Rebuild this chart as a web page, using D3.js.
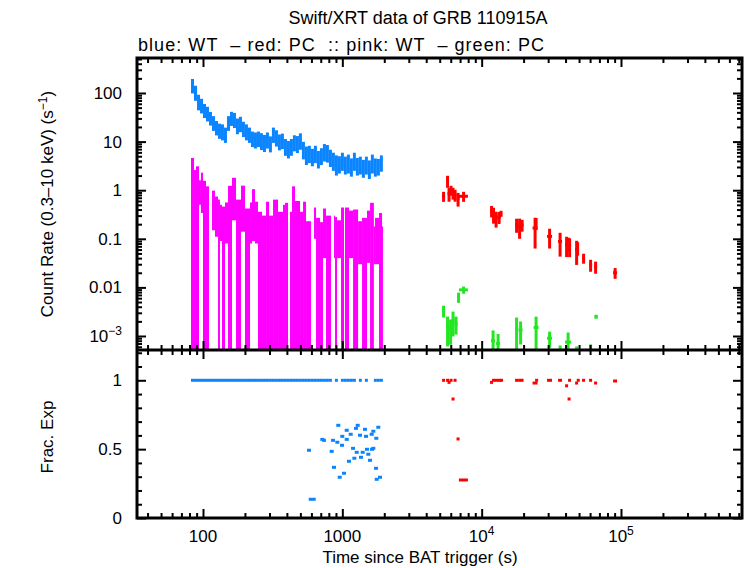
<!DOCTYPE html>
<html>
<head>
<meta charset="utf-8">
<script src="https://cdn.jsdelivr.net/npm/d3@7/dist/d3.min.js"></script>
<style>
body { margin: 0; background: #fff; }
text { font-family: "Liberation Sans", Arial, Helvetica, sans-serif; fill: #000; }
</style>
</head>
<body>
<div id="chart"></div>
<script>
//Data: WT light curve (blue), contiguous time bins
const wtEdges = [82.0, 86.2, 90.6, 95.2, 100.0, 105.1, 110.4, 116.0, 121.9, 128.1, 134.6, 141.4, 148.6, 156.2, 164.1, 172.4,
    181.2, 190.4, 200.0, 210.2, 220.9, 232.1, 243.9, 256.3, 269.3, 283.0, 297.3, 312.4, 328.3, 345.0, 362.5, 380.9,
    400.3, 420.6, 442.0, 464.4, 488.0, 512.8, 538.9, 566.3, 595.0, 625.3, 657.0, 690.4, 725.5, 762.4, 801.1, 841.8,
    884.6, 929.5, 976.8, 1026, 1078, 1133, 1191, 1251, 1315, 1381, 1452, 1525, 1603, 1684, 1770, 1860, 1954];
const wtRate = [146, 105, 68, 57, 45, 39, 31, 25, 20, 17.4, 16.6, 14.4, 25, 31, 29, 22,
    24, 19, 16.6, 14.4, 11.9, 11.3, 11.9, 10.8, 9.9, 11.3, 9.4, 14.4, 12.5, 10.3, 10.8, 8.2,
    7.4, 8.2, 9.9, 9.4, 10.8, 7.1, 5.6, 5.9, 5.1, 5.9, 4.6, 5.3, 6.4, 6.1, 4.9, 4.2,
    3.6, 3.6, 4.2, 3.5, 3.8, 3.2, 4.2, 3.3, 3.5, 3.0, 3.5, 2.9, 3.8, 3.2, 3.2, 3.8];
const wtErr = [48, 36, 24, 19, 14.5, 13, 9.6, 8.4, 6.6, 6, 6, 5, 8.4, 10, 10, 7.8,
    8.4, 6.6, 6, 5, 4.2, 4.1, 4.2, 4.1, 3.8, 4.1, 3.4, 5, 4.6, 3.7, 3.8, 3.1,
    2.9, 3.1, 3.6, 3.6, 4, 2.8, 2.3, 2.3, 2, 2.3, 1.8, 2, 2.5, 2.4, 1.9, 1.7,
    1.6, 1.4, 1.7, 1.4, 1.6, 1.3, 1.7, 1.3, 1.4, 1.2, 1.4, 1.2, 1.6, 1.3, 1.2, 1.4];
const wtFrac = [1, 1, 1, 1, 1, 1, 1, 1, 1, 1, 1, 1, 1, 1, 1, 1,
    1, 1, 1, 1, 1, 1, 1, 1, 1, 1, 1, 1, 1, 1, 1, 1,
    1, 1, 1, 1, 1, 1, 1, 1, 1, 1, 1, 1, 1, 1, 1, null,
    1, null, 1, 1, 1, 1, 1, null, 1, null, 1, null, null, 1, 1, 1];

//WT bins with fractional exposure below 1
const wtFracT = [936, 1076, 1290, 1254, 1455, 1813, 1670, 1626, 1000, 1149, 1340, 1480, 1754, 719, 739, 858, 921, 1076, 995, 577,
    839, 1194, 1269, 1401, 1504, 1634, 1670, 1537, 1362, 1220, 1117, 1581, 872, 1746, 1028, 958, 1865, 1766, 609];
const wtFracDt = [31, 36, 43, 41, 48, 60, 55, 54, 33, 38, 44, 49, 58, 24, 24, 28, 30, 36, 33, 19,
    28, 39, 42, 46, 50, 54, 55, 51, 45, 40, 37, 52, 29, 58, 34, 32, 62, 58, 35];
const wtFracV = [0.673, 0.637, 0.673, 0.651, 0.644, 0.659, 0.630, 0.608, 0.593, 0.608, 0.601, 0.593, 0.579, 0.571, 0.564, 0.564,
    0.550, 0.571, 0.528, 0.492, 0.484, 0.506, 0.477, 0.477, 0.499, 0.499, 0.506, 0.463, 0.441, 0.434, 0.412, 0.419,
    0.368, 0.361, 0.325, 0.296, 0.296, 0.281, 0.136];

//Pink: WT
const pinkT0 = [82.0, 86.2, 89.1, 93.6, 96.7, 100.0, 105.1, 116.0, 121.9, 128.2, 132.4, 136.9, 143.9, 151.2, 161.5, 172.6,
    187.4, 200.2, 217.5, 224.8, 236.2, 248.2, 265.2, 283.4, 297.8, 318.2, 345.5, 375.3, 387.9, 421.3, 435.5, 457.6,
    497.0, 522.4, 548.9, 626.4, 647.5, 691.7, 726.9, 763.8, 871.8, 886.4, 916.2, 978.8, 1045, 1117, 1194, 1297,
    1385, 1504, 1581, 1684, 1717, 1834, 1928];
const pinkT1 = [86.2, 89.1, 93.6, 96.7, 100.0, 105.1, 110.4, 121.9, 128.2, 132.4, 136.9, 143.9, 151.2, 161.5, 172.6, 187.4,
    200.2, 217.5, 224.8, 236.2, 248.2, 265.2, 283.4, 297.8, 318.2, 345.5, 375.3, 387.9, 407.6, 435.5, 457.6, 497.0,
    522.4, 548.9, 596.3, 647.5, 691.7, 726.9, 763.8, 829.7, 886.4, 916.2, 978.8, 1028, 1117, 1194, 1297, 1385,
    1504, 1581, 1684, 1717, 1834, 1928, 1960];
const pinkRate = [2.1, 1.2, 1.4, 1.05, 1.32, 0.7, 0.55, 0.565, 0.425, 0.29, 0.295, 0.21, 0.32, 0.55, 1.02, 0.29,
    0.69, 0.19, 0.32, 0.57, 0.33, 0.16, 0.13, 0.26, 0.13, 0.29, 0.16, 0.22, 0.25, 0.16, 0.54, 0.27,
    0.16, 0.26, 0.1, 0.27, 0.12, 0.1, 0.23, 0.13, 0.17, 0.12, 0.14, 0.2, 0.2, 0.21, 0.18, 0.13,
    0.12, 0.206, 0.25, 0.105, 0.15, 0.15, 0.08];
const pinkErr = [2.5, 1.4, 1.7, 0.55, 0.98, 0.86, 0.65, 0.415, 0.315, 0.35, 0.205, 0.25, 0.24, 0.68, 0.78, 0.35,
    0.55, 0.23, 0.24, 0.48, 0.25, 0.2, 0.17, 0.32, 0.17, 0.35, 0.2, 0.28, 0.3, 0.2, 0.66, 0.33,
    0.2, 0.32, 0.13, 0.17, 0.15, 0.12, 0.19, 0.17, 0.13, 0.16, 0.1, 0.24, 0.24, 0.17, 0.22, 0.1,
    0.15, 0.174, 0.3, 0.075, 0.12, 0.19, 0.1];

//Red: PC
const pcT = [5329, 5691, 5834, 6031, 6234, 6445, 6771, 7418, 11780, 12170, 12690, 13340, 13780, 17810, 18720, 19510,
    24180, 24590, 30730, 36550, 40700, 42060, 42770, 48030, 48830, 53890, 60510, 65740, 90730];
const pcDt = [132, 141, 145, 150, 155, 160, 168, 550, 292, 302, 315, 440, 228, 442, 464, 484,
    1000, 406, 1270, 1210, 1010, 700, 1060, 1190, 700, 1340, 1500, 1630, 3000];
const pcRate = [0.75, 1.55, 0.85, 1.0, 0.88, 0.8, 0.67, 0.75, 0.375, 0.32, 0.265, 0.28, 0.33, 0.196, 0.18, 0.193,
    0.167, 0.21, 0.112, 0.088, 0.076, 0.08, 0.072, 0.060, 0.065, 0.040, 0.029, 0.0265, 0.020];
const pcErr = [0.175, 0.43, 0.27, 0.23, 0.24, 0.22, 0.21, 0.175, 0.10, 0.115, 0.095, 0.078, 0.047, 0.063, 0.08, 0.053,
    0.104, 0.058, 0.049, 0.045, 0.034, 0.025, 0.03, 0.031, 0.02, 0.0093, 0.008, 0.0074, 0.005];
const pcFrac = [1, 1, 0.985, 1, 0.864, 1, 0.574, 0.276, 0.985, 1, 1, 1, 1, 1, 1, 1,
    0.98, 1, 1, 1, 0.96, 0.864, 1, 0.98, 1, 1, 1, 0.98, 0.995];

//Green: PC
const greenT = [5329, 5691, 5982, 6234, 6550, 6826, 7418, 12080, 13120, 17810, 19030, 24590, 30730, 36550, 41730, 48030, 60510, 66280];
const greenDt = [132, 141, 148, 155, 162, 170, 550, 400, 430, 442, 630, 1000, 1270, 1210, 2090, 1190, 1500, 1640];
const greenRate = [0.0033, 0.00156, 0.00142, 0.00208, 0.00179, 0.0063, 0.0089, 0.0008, 0.0007, 0.0014, 0.00133, 0.0015,
    0.0009, 0.0005, 0.00075, 0.00048, 0.0005, 0.0025];
const greenErr = [0.0009, 0.00095, 0.00076, 0.0011, 0.00072, 0.0015, 0.0015, 0.0005, 0.0004, 0.001, 0.00066, 0.001,
    0.00033, 0.00014, 0.00043, 0.00013, 0.00017, 0.00023];

//Ticks
const xMajor = [100, 1000, 1e4, 1e5];
const xMajorBase = ['100', '1000', '10', '10'];
const xMajorExp = ['', '', '4', '5'];
const rateMajor = [100, 10, 1, 0.1, 0.01, 0.001];
const rateMajorBase = ['100', '10', '1', '0.1', '0.01', '10'];
const rateMajorExp = ['', '', '', '', '', '\u22123'];
const fracMajor = [0, 0.5, 1];
const fracMajorLabels = ['0', '0.5', '1'];

//General config
const W = 746, H = 568;
const left = 137, right = 742;
const topY = 58, midY = 350, botY = 518;
const blue = '#0a85ff', pink = '#ff00ff', red = '#ff0000', green = '#22e622';

const x = d3.scaleLog().domain([33.6, 738700]).range([left, right]);
const y = d3.scaleLog().domain([5.15e-4, 525]).range([midY, topY]);
const yf = d3.scaleLinear().domain([0, 1.22]).range([botY, midY]);

const svg = d3.select('#chart').append('svg')
    .attr('width', W)
    .attr('height', H);

svg.append('clipPath').attr('id', 'clipTop')
    .append('rect').attr('x', left).attr('y', topY).attr('width', right - left).attr('height', midY - topY);
svg.append('clipPath').attr('id', 'clipBot')
    .append('rect').attr('x', left).attr('y', midY).attr('width', right - left).attr('height', botY - midY);

const topG = svg.append('g').attr('clip-path', 'url(#clipTop)');
const botG = svg.append('g').attr('clip-path', 'url(#clipBot)');

const yLow = v => v > y.domain()[0] ? y(v) : midY + 10;

//WT and pink bins drawn as filled boxes
const wtBins = wtRate.map((r, i) => ({t0: wtEdges[i], t1: wtEdges[i + 1], r: r, e: wtErr[i], f: wtFrac[i]}));
const pinkBins = pinkRate.map((r, i) => ({t0: pinkT0[i], t1: pinkT1[i], r: r, e: pinkErr[i]}));

topG.selectAll('.pink').data(pinkBins).enter().append('rect')
    .attr('class', 'pink')
    .attr('x', d => x(d.t0))
    .attr('width', d => x(d.t1) - x(d.t0))
    .attr('y', d => y(d.r + d.e))
    .attr('height', d => yLow(d.r - d.e) - y(d.r + d.e))
    .attr('fill', pink);

topG.selectAll('.wt').data(wtBins).enter().append('rect')
    .attr('class', 'wt')
    .attr('x', d => x(d.t0))
    .attr('width', d => x(d.t1) - x(d.t0))
    .attr('y', d => y(d.r + d.e))
    .attr('height', d => yLow(d.r - d.e) - y(d.r + d.e))
    .attr('fill', blue);

//PC points drawn as crosses
function crosses(g, data, color) {
    const pts = g.append('g').attr('stroke', color).attr('stroke-width', 3);
    pts.selectAll('.v').data(data).enter().append('line')
        .attr('x1', d => x(d.t)).attr('x2', d => x(d.t))
        .attr('y1', d => y(d.r + d.e)).attr('y2', d => yLow(d.r - d.e));
    pts.selectAll('.h').data(data).enter().append('line')
        .attr('x1', d => x(d.t - d.dt)).attr('x2', d => x(d.t + d.dt))
        .attr('y1', d => y(d.r)).attr('y2', d => y(d.r));
}
const pcPts = pcRate.map((r, i) => ({t: pcT[i], dt: pcDt[i], r: r, e: pcErr[i], f: pcFrac[i]}));
const greenPts = greenRate.map((r, i) => ({t: greenT[i], dt: greenDt[i], r: r, e: greenErr[i]}));
crosses(topG, greenPts, green);
crosses(topG, pcPts, red);

//Fractional exposure panel
botG.selectAll('.wtf').data(wtBins.filter(d => d.f !== null)).enter().append('rect')
    .attr('x', d => x(d.t0))
    .attr('width', d => x(d.t1) - x(d.t0))
    .attr('y', d => yf(d.f) - 1.5)
    .attr('height', 3)
    .attr('fill', blue);

const wtScatter = wtFracV.map((v, i) => ({t: wtFracT[i], dt: wtFracDt[i], f: v}));
botG.selectAll('.wts').data(wtScatter).enter().append('rect')
    .attr('x', d => x(d.t - d.dt))
    .attr('width', d => x(d.t + d.dt) - x(d.t - d.dt))
    .attr('y', d => yf(d.f) - 1.5)
    .attr('height', 3)
    .attr('fill', blue);

botG.selectAll('.pcf').data(pcPts).enter().append('rect')
    .attr('x', d => x(d.t - d.dt))
    .attr('width', d => Math.max(3, x(d.t + d.dt) - x(d.t - d.dt)))
    .attr('y', d => yf(d.f) - 1.5)
    .attr('height', 3)
    .attr('fill', red);

//Minor tick values
const xMinor = [];
[10, 100, 1000, 1e4, 1e5].forEach(dec => {
    for (let k = 2; k <= 9; k++) {
        const v = dec * k;
        if (v > x.domain()[0] && v < x.domain()[1]) xMinor.push(v);
    }
});
const rateMinor = [];
[1e-4, 1e-3, 1e-2, 0.1, 1, 10, 100].forEach(dec => {
    for (let k = 2; k <= 9; k++) {
        const v = dec * k;
        if (v > y.domain()[0] && v < y.domain()[1]) rateMinor.push(v);
    }
});
const fracMinor = [0.1, 0.2, 0.3, 0.4, 0.6, 0.7, 0.8, 0.9, 1.1, 1.2];

//Axes (ticks pointing inside)
function tickAxis(axisFn, scale, vals, size, transform) {
    const g = svg.append('g')
        .attr('transform', transform)
        .call(axisFn(scale).tickValues(vals).tickSize(size).tickFormat(''));
    g.select('.domain').remove();
    g.selectAll('line').attr('stroke', '#000').attr('stroke-width', 2);
}
const maj = -9, mnr = -5;
tickAxis(d3.axisLeft, y, rateMajor, maj, `translate(${left},0)`);
tickAxis(d3.axisLeft, y, rateMinor, mnr, `translate(${left},0)`);
tickAxis(d3.axisRight, y, rateMajor, maj, `translate(${right},0)`);
tickAxis(d3.axisRight, y, rateMinor, mnr, `translate(${right},0)`);
tickAxis(d3.axisLeft, yf, fracMajor, maj, `translate(${left},0)`);
tickAxis(d3.axisLeft, yf, fracMinor, mnr, `translate(${left},0)`);
tickAxis(d3.axisRight, yf, fracMajor, maj, `translate(${right},0)`);
tickAxis(d3.axisRight, yf, fracMinor, mnr, `translate(${right},0)`);
[[d3.axisTop, topY], [d3.axisBottom, midY], [d3.axisTop, midY], [d3.axisBottom, botY]].forEach(([fn, yy]) => {
    tickAxis(fn, x, xMajor, maj, `translate(0,${yy})`);
    tickAxis(fn, x, xMinor, mnr, `translate(0,${yy})`);
});

//Frames
svg.append('rect')
    .attr('x', left).attr('y', topY)
    .attr('width', right - left).attr('height', botY - topY)
    .attr('fill', 'none').attr('stroke', '#000').attr('stroke-width', 3);
svg.append('line')
    .attr('x1', left).attr('x2', right)
    .attr('y1', midY).attr('y2', midY)
    .attr('stroke', '#000').attr('stroke-width', 3);

//Tick labels
const fs = 17;
function supLabel(sel, base, exp) {
    sel.append('tspan').text(base);
    if (exp) sel.append('tspan').attr('dy', -7).attr('font-size', 12).text(exp);
}
xMajor.forEach((v, i) => {
    const t = svg.append('text')
        .attr('x', x(v)).attr('y', 542)
        .attr('text-anchor', 'middle')
        .attr('font-size', fs);
    supLabel(t, xMajorBase[i], xMajorExp[i]);
});
rateMajor.forEach((v, i) => {
    const t = svg.append('text')
        .attr('x', 122).attr('y', y(v) + 6)
        .attr('text-anchor', 'end')
        .attr('font-size', fs);
    supLabel(t, rateMajorBase[i], rateMajorExp[i]);
});
fracMajor.forEach((v, i) => {
    svg.append('text')
        .attr('x', 122).attr('y', yf(v) + 6)
        .attr('text-anchor', 'end')
        .attr('font-size', fs)
        .text(fracMajorLabels[i]);
});

//Titles
svg.append('text')
    .attr('x', 418).attr('y', 24)
    .attr('text-anchor', 'middle')
    .attr('font-size', 18)
    .text('Swift/XRT data of GRB 110915A');
svg.append('text')
    .attr('x', 138).attr('y', 51)
    .attr('font-size', 18)
    .attr('textLength', 406)
    .attr('lengthAdjust', 'spacing')
    .style('white-space', 'pre')
    .text('blue: WT  \u2013 red: PC  :: pink: WT  \u2013 green: PC');
svg.append('text')
    .attr('x', 420).attr('y', 563)
    .attr('text-anchor', 'middle')
    .attr('font-size', fs)
    .text('Time since BAT trigger (s)');

const yl = svg.append('text')
    .attr('transform', 'translate(53,204) rotate(-90)')
    .attr('text-anchor', 'middle')
    .attr('font-size', fs);
yl.append('tspan').text('Count Rate (0.3\u201310 keV) (s');
yl.append('tspan').attr('dy', -6).attr('font-size', 12).text('\u22121');
yl.append('tspan').attr('dy', 6).text(')');

svg.append('text')
    .attr('transform', 'translate(53,437) rotate(-90)')
    .attr('text-anchor', 'middle')
    .attr('font-size', fs)
    .text('Frac. Exp');
</script>
</body>
</html>
